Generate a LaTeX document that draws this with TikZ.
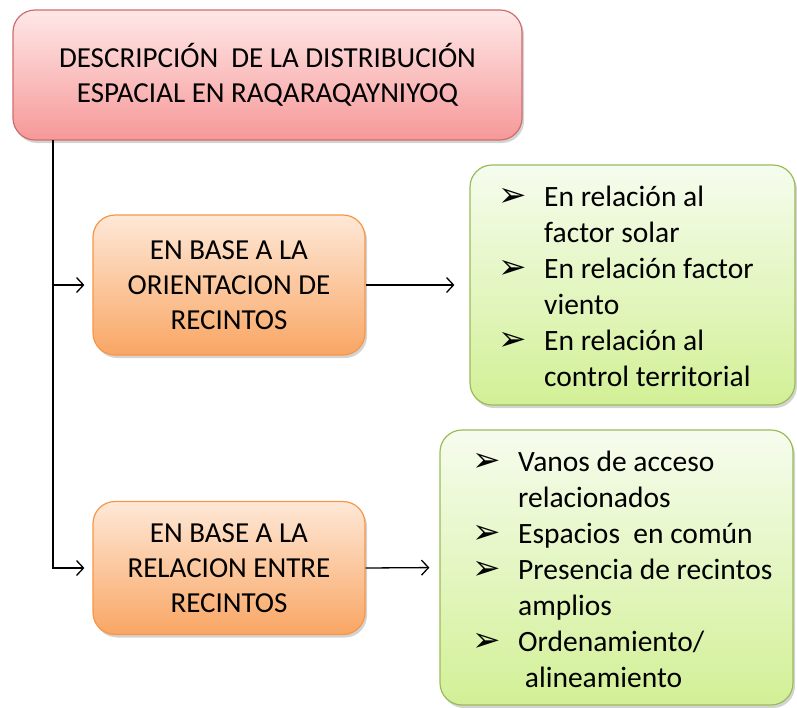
\documentclass[tikz,border=0pt]{standalone}
\usepackage{fontspec}
\setmainfont{Carlito}
\newfontfamily\dejavu{DejaVu Sans}
\usepackage{tikz}
\usetikzlibrary{arrows.meta,shadows}
\definecolor{titleline}{RGB}{205,110,108}
\definecolor{titletop}{RGB}{255,232,232}
\definecolor{titlebot}{RGB}{246,152,152}
\definecolor{orline}{RGB}{247,150,70}
\definecolor{ortop}{RGB}{254,232,215}
\definecolor{orbot}{RGB}{249,166,100}
\definecolor{grline}{RGB}{155,187,89}
\definecolor{grtop}{RGB}{246,252,238}
\definecolor{grbot}{RGB}{210,240,150}
\newcommand{\bul}{\makebox[46pt][l]{\smash{\dejavu\fontsize{34}{34}\selectfont ➢}}}
\newcommand{\itm}[1]{\bul#1}
\newcommand{\cnt}[1]{\hspace*{46pt}#1}

\begin{document}
\begin{tikzpicture}[x=1pt,y=-1pt,
  boxbase/.style={rounded corners=22pt, line width=1.2pt, align=center,
    font=\fontsize{29}{35}\selectfont, inner sep=0pt,
    drop shadow={opacity=0.35, shadow xshift=2pt, shadow yshift=-3pt}},
  titlebox/.style={boxbase, draw=titleline, top color=titletop, bottom color=titlebot},
  basebox/.style={boxbase, draw=orline, top color=ortop, bottom color=orbot},
  listbox/.style={boxbase, draw=grline, top color=grtop, bottom color=grbot},
  listtext/.style={align=left, anchor=west, inner sep=0pt, font=\fontsize{29.5}{36}\selectfont},
  link/.style={line width=1.3pt, -{Straight Barb[length=7pt,width=15pt]}}]
\useasboundingbox (0,0) rectangle (797,707);

\node[titlebox, minimum width=509pt, minimum height=130pt] (title) at (267.5,75)
  {DESCRIPCIÓN\ \ DE LA DISTRIBUCIÓN\\ESPACIAL EN RAQARAQAYNIYOQ};

\node[basebox, minimum width=272pt, minimum height=140pt] (orient) at (229,285)
  {EN BASE A LA\\ORIENTACION DE\\RECINTOS};
\node[basebox, minimum width=272pt, minimum height=133pt] (relac) at (229,568)
  {EN BASE A LA\\RELACION ENTRE\\RECINTOS};

\node[listbox, minimum width=325pt, minimum height=240pt] (factors) at (632.5,285) {};
\node[listbox, minimum width=353pt, minimum height=275pt] (features) at (616.5,567.5) {};

\node[listtext] (factorlist) at (498,286.5)
  {\itm{En relación al}\\\cnt{factor solar}\\\itm{En relación factor}\\\cnt{viento}\\\itm{En relación al}\\\cnt{control territorial}};
\node[listtext] (featurelist) at (472,569.5)
  {\itm{Vanos de acceso}\\\cnt{relacionados}\\\itm{Espacios\ \ en común}\\\itm{Presencia de recintos}\\\cnt{amplios}\\\itm{Ordenamiento/}\\\cnt{\ alineamiento}};

\coordinate (trunk) at (53,140);
\draw[link, shorten >=8pt] (trunk) |- (relac.west);
\draw[link, shorten >=8pt] (trunk |- orient.west) -- (orient.west);
\draw[link, shorten >=15pt] (orient.east) -- (factors.west);
\draw[link, shorten >=10pt] (relac.east) -- (features.west);
\end{tikzpicture}
\end{document}
